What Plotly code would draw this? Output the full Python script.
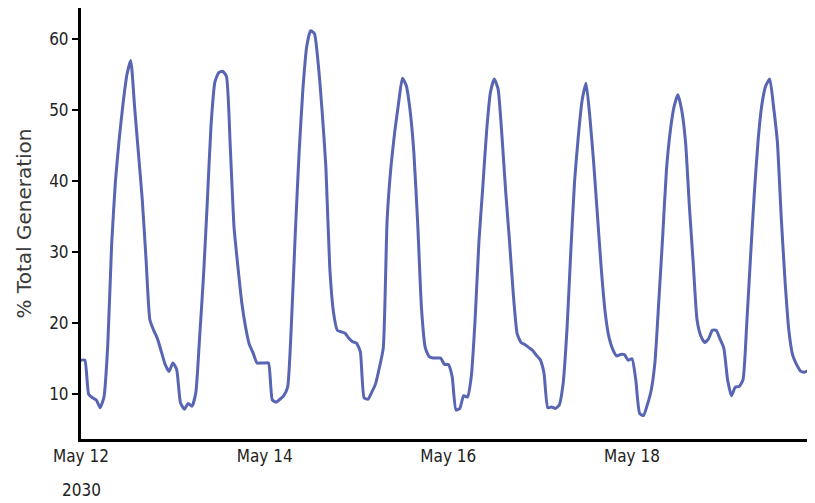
import pandas as pd
import plotly.graph_objects as go

start = "2030-05-12 00:00"
day1 = [14.8, 14.8, 10.0, 9.5, 9.2, 8.1, 9.6, 17.0, 31.0, 40.0, 46.0, 51.0,
        55.0, 57.0, 50.5, 44.0, 37.5, 29.0, 20.5, 19.0, 17.8, 16.0, 14.2, 13.2]
day2 = [14.4, 13.5, 8.8, 7.9, 8.7, 8.3, 10.2, 18.0, 26.5, 37.0, 48.0, 54.0,
        55.3, 55.5, 54.8, 45.0, 33.5, 28.0, 23.0, 19.5, 17.0, 15.8, 14.4, 14.4]
day3 = [14.4, 14.4, 9.2, 8.9, 9.3, 9.8, 11.0, 20.0, 32.6, 44.0, 53.0, 59.0,
        61.2, 60.8, 56.5, 50.0, 42.0, 28.0, 21.5, 19.0, 18.8, 18.6, 17.9, 17.4]
day4 = [17.2, 16.0, 9.5, 9.3, 10.3, 11.5, 13.8, 16.5, 34.5, 42.0, 47.0, 51.0,
        54.5, 53.5, 50.0, 44.0, 34.0, 22.0, 16.5, 15.3, 15.1, 15.1, 15.1, 14.2]
day5 = [14.2, 12.5, 7.8, 8.0, 9.8, 9.6, 12.5, 20.5, 31.5, 39.1, 47.0, 52.5,
        54.4, 53.0, 46.5, 38.5, 31.5, 24.0, 18.5, 17.3, 17.0, 16.6, 16.2, 15.5]
day6 = [14.9, 13.0, 8.1, 8.2, 8.0, 8.5, 11.5, 19.0, 30.0, 40.0, 46.5, 51.5,
        53.8, 49.0, 42.5, 35.0, 27.5, 21.5, 18.0, 16.3, 15.4, 15.6, 15.6, 14.8]
day7 = [15.0, 12.0, 7.3, 7.0, 8.5, 10.5, 14.5, 23.0, 32.0, 41.5, 47.0, 50.5,
        52.2, 50.0, 45.5, 36.5, 28.5, 20.5, 18.2, 17.3, 17.8, 19.0, 19.0, 17.8]
day8 = [16.5, 12.0, 9.8, 11.0, 11.1, 12.0, 20.0, 29.5, 38.5, 46.0, 51.0, 53.5,
        54.4, 50.5, 45.5, 35.0, 26.0, 19.0, 15.5, 14.2, 13.3, 13.1, 13.3, 13.4]
values = day1 + day2 + day3 + day4 + day5 + day6 + day7 + day8
times = pd.date_range(start, periods=len(values), freq="h")

tick_dates = ["2030-05-12", "2030-05-14", "2030-05-16", "2030-05-18"]
tick_labels = ["May 12", "May 14", "May 16", "May 18"]
y_ticks = [10, 20, 30, 40, 50, 60]

tick_font = dict(family="Liberation Sans Narrow, DejaVu Sans Condensed, Arial Narrow, sans-serif",
                 size=17, color="#222222")

fig = go.Figure()
fig.add_trace(go.Scatter(x=times, y=values, mode="lines",
                         line=dict(color="#5865b2", width=3, shape="spline", smoothing=0.5),
                         showlegend=False))

fig.update_layout(
    width=807, height=495,
    margin=dict(l=73, r=0, t=0, b=64),
    paper_bgcolor="white", plot_bgcolor="white",
    xaxis=dict(
        range=["2030-05-12 00:00", "2030-05-19 23:50"],
        tickmode="array", tickvals=tick_dates, ticktext=tick_labels,
        showgrid=False, zeroline=False, showline=True, linecolor="black", linewidth=3,
        ticks="", tickfont=tick_font, ticklabelstandoff=0,
    ),
    yaxis=dict(
        range=[3.7, 64.4],
        tickmode="array", tickvals=y_ticks,
        showgrid=False, zeroline=False, showline=True, linecolor="black", linewidth=3,
        ticks="outside", ticklen=6, tickwidth=2, tickcolor="black",
        tickfont=tick_font,
        title=dict(text="% Total Generation", font=dict(family="DejaVu Sans", size=20, color="#3a3a3a"),
                   standoff=13),
    ),
)
fig.add_annotation(text="2030", x="2030-05-12", y=0, xref="x", yref="paper",
                   yshift=-51, yanchor="middle", showarrow=False, font=tick_font)

fig.write_html("out.html")
